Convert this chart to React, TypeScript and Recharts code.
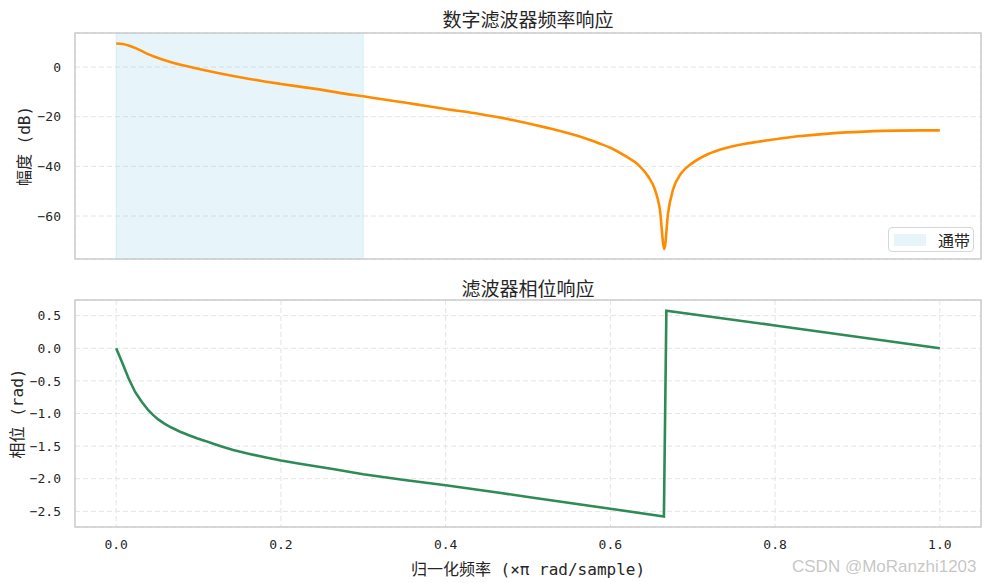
import React from 'react';
import {
  LineChart,
  Line,
  XAxis,
  YAxis,
  CartesianGrid,
  ReferenceArea,
} from 'recharts';

// ---- data ----
const MAG_FREQ = [
  0.0, 0.008, 0.016, 0.025, 0.033, 0.041, 0.051, 0.061, 0.071, 0.081, 0.102, 0.122,
  0.142, 0.162, 0.182, 0.2, 0.223, 0.25, 0.275, 0.3, 0.325, 0.35, 0.375, 0.4, 0.441,
  0.481, 0.521, 0.561, 0.586, 0.6, 0.618, 0.634, 0.646, 0.654, 0.66, 0.6655, 0.67,
  0.676, 0.686, 0.699, 0.719, 0.739, 0.759, 0.779, 0.8, 0.828, 0.868, 0.908, 0.949, 1.0,
];
const MAG_DB = [
  9.5, 9.3, 8.6, 7.4, 6.1, 4.9, 3.6, 2.5, 1.5, 0.7, -0.9, -2.3,
  -3.6, -4.8, -5.9, -6.8, -7.9, -9.2, -10.6, -11.8, -13.1, -14.3, -15.6, -16.9, -18.9,
  -21.3, -24.3, -27.8, -30.7, -32.5, -35.8, -39.4, -44.1, -49.3, -57.0, -73.3, -58.9,
  -49.5, -42.8, -38.8, -35.0, -32.7, -31.2, -30.1, -29.1, -27.9, -26.7, -26.0, -25.6, -25.5,
];

const PHASE_FREQ = [
  0.0, 0.007, 0.015, 0.023, 0.031, 0.039, 0.045, 0.051, 0.059, 0.067, 0.077, 0.0875,
  0.098, 0.108, 0.118, 0.128, 0.142, 0.162, 0.182, 0.2, 0.223, 0.263, 0.3, 0.35, 0.4,
  0.465, 0.5, 0.6, 0.665, 0.668, 0.8, 1.0,
];
const PHASE_RAD = [
  0.0, -0.21, -0.46, -0.67, -0.82, -0.95, -1.025, -1.09, -1.16, -1.215, -1.275, -1.33,
  -1.38, -1.42, -1.465, -1.505, -1.56, -1.62, -1.675, -1.72, -1.77, -1.85, -1.93, -2.02, -2.1,
  -2.215, -2.28, -2.46, -2.58, 0.575, 0.35, 0.0,
];

const PASSBAND = [0, 0.3];
const X_DOMAIN = [-0.05, 1.05];
const X_TICKS = [0, 0.2, 0.4, 0.6, 0.8, 1.0];
const MAG_DOMAIN = [-77.3, 13.7];
const MAG_TICKS = [-60, -40, -20, 0];
const PHASE_DOMAIN = [-2.74, 0.74];
const PHASE_TICKS = [-2.5, -2.0, -1.5, -1.0, -0.5, 0.0, 0.5];

const magData = MAG_FREQ.map((f, i) => ({ f, v: MAG_DB[i] }));
const phaseData = PHASE_FREQ.map((f, i) => ({ f, v: PHASE_RAD[i] }));

const MONO = "'DejaVu Sans Mono', 'Noto Sans CJK SC', monospace";
const CJK = "'Noto Sans CJK SC', 'DejaVu Sans', sans-serif";
const TEXT = '#262626';
const GRID = '#e4e4e4';
const FRAME = '#cccccc';

const minus = (s: string) => s.replace('-', '\u2212');

const tickStyle = { fontSize: 13, fill: TEXT, fontFamily: MONO };

export default function App() {
  return (
    <div
      style={{
        position: 'absolute',
        left: 0,
        top: 0,
        width: 991,
        height: 583,
        background: '#fff',
        overflow: 'hidden',
      }}
    >
      {/* top: magnitude */}
      <div style={{ position: 'absolute', left: 0, top: 0 }}>
        <LineChart
          width={991}
          height={264}
          data={magData}
          margin={{ top: 33, right: 10, bottom: 5, left: 0 }}
        >
          <CartesianGrid stroke={GRID} strokeDasharray="5 3" strokeWidth={1} />
          <ReferenceArea
            x1={PASSBAND[0]}
            x2={PASSBAND[1]}
            y1={MAG_DOMAIN[0]}
            y2={MAG_DOMAIN[1]}
            fill="#87CEEB"
            fillOpacity={0.2}
            stroke="#87CEEB"
            strokeOpacity={0.25}
            ifOverflow="visible"
          />
          <ReferenceArea
            x1={X_DOMAIN[0]}
            x2={X_DOMAIN[1]}
            y1={MAG_DOMAIN[0]}
            y2={MAG_DOMAIN[1]}
            fill="none"
            stroke={FRAME}
            strokeWidth={1.5}
            ifOverflow="visible"
          />
          <XAxis
            dataKey="f"
            type="number"
            domain={X_DOMAIN}
            ticks={X_TICKS}
            allowDataOverflow
            height={0}
            tick={false}
            axisLine={false}
            tickLine={false}
          />
          <YAxis
            type="number"
            domain={MAG_DOMAIN}
            ticks={MAG_TICKS}
            allowDataOverflow
            width={75}
            axisLine={false}
            tickLine={false}
            tickSize={0}
            tickMargin={14}
            tick={tickStyle}
            tickFormatter={(v: number) => minus(String(v))}
            label={{
              value: '幅度 (dB)',
              angle: -90,
              position: 'insideLeft',
              offset: 24,
              style: { textAnchor: 'middle', fontSize: 16, fill: TEXT, fontFamily: MONO },
            }}
          />
          <Line
            type="monotone"
            dataKey="v"
            stroke="#FF8C00"
            strokeWidth={2.6}
            dot={false}
            isAnimationActive={false}
          />
        </LineChart>
      </div>

      {/* bottom: phase */}
      <div style={{ position: 'absolute', left: 0, top: 264 }}>
        <LineChart
          width={991}
          height={319}
          data={phaseData}
          margin={{ top: 36, right: 10, bottom: 0, left: 0 }}
        >
          <CartesianGrid stroke={GRID} strokeDasharray="5 3" strokeWidth={1} />
          <ReferenceArea
            x1={X_DOMAIN[0]}
            x2={X_DOMAIN[1]}
            y1={PHASE_DOMAIN[0]}
            y2={PHASE_DOMAIN[1]}
            fill="none"
            stroke={FRAME}
            strokeWidth={1.5}
            ifOverflow="visible"
          />
          <XAxis
            dataKey="f"
            type="number"
            domain={X_DOMAIN}
            ticks={X_TICKS}
            allowDataOverflow
            height={56}
            axisLine={false}
            tickLine={false}
            tickSize={0}
            tickMargin={13}
            tick={tickStyle}
            tickFormatter={(v: number) => minus(v.toFixed(1))}
            label={{
              value: '归一化频率 (×π rad/sample)',
              position: 'insideBottom',
              offset: 8,
              style: { fontSize: 16, fill: TEXT, fontFamily: MONO },
            }}
          />
          <YAxis
            type="number"
            domain={PHASE_DOMAIN}
            ticks={PHASE_TICKS}
            allowDataOverflow
            width={75}
            axisLine={false}
            tickLine={false}
            tickSize={0}
            tickMargin={14}
            tick={tickStyle}
            tickFormatter={(v: number) => minus(v.toFixed(1))}
            label={{
              value: '相位 (rad)',
              angle: -90,
              position: 'insideLeft',
              offset: 17,
              style: { textAnchor: 'middle', fontSize: 16, fill: TEXT, fontFamily: MONO },
            }}
          />
          <Line
            type="linear"
            dataKey="v"
            stroke="#2E8B57"
            strokeWidth={2.6}
            dot={false}
            isAnimationActive={false}
          />
        </LineChart>
      </div>

      {/* titles */}
      <div
        style={{
          position: 'absolute',
          left: 528,
          top: 18,
          transform: 'translate(-50%, -50%)',
          fontFamily: CJK,
          fontSize: 19,
          lineHeight: 1,
          color: TEXT,
          whiteSpace: 'nowrap',
        }}
      >
        数字滤波器频率响应
      </div>
      <div
        style={{
          position: 'absolute',
          left: 528,
          top: 287,
          transform: 'translate(-50%, -50%)',
          fontFamily: CJK,
          fontSize: 19,
          lineHeight: 1,
          color: TEXT,
          whiteSpace: 'nowrap',
        }}
      >
        滤波器相位响应
      </div>

      {/* legend */}
      <div
        style={{
          position: 'absolute',
          left: 888,
          top: 227,
          width: 86,
          height: 25,
          boxSizing: 'border-box',
          border: '1px solid #d6d6d6',
          borderRadius: 4,
          background: 'rgba(255,255,255,0.8)',
          display: 'flex',
          alignItems: 'center',
        }}
      >
        <div
          style={{
            marginLeft: 5,
            width: 32,
            height: 12,
            background: 'rgba(135,206,235,0.2)',
          }}
        />
        <div
          style={{
            marginLeft: 12,
            fontFamily: CJK,
            fontSize: 16,
            lineHeight: 1,
            color: TEXT,
          }}
        >
          通带
        </div>
      </div>

      {/* watermark */}
      <div
        style={{
          position: 'absolute',
          left: 792,
          top: 566,
          transform: 'translateY(-50%)',
          fontFamily: "'Liberation Sans', Arial, sans-serif",
          fontSize: 17,
          lineHeight: 1,
          color: 'rgba(180,180,180,0.75)',
          whiteSpace: 'nowrap',
        }}
      >
        CSDN @MoRanzhi1203
      </div>
    </div>
  );
}
